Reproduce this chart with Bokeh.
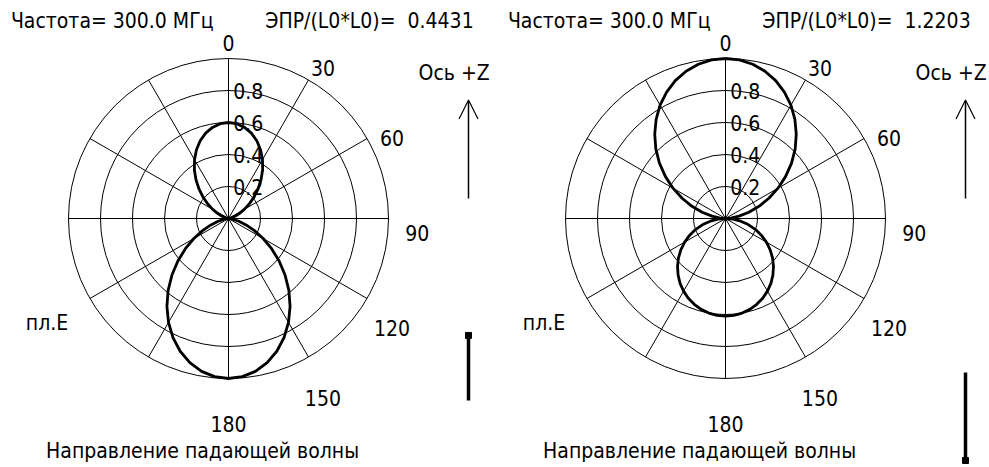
import numpy as np
from bokeh.plotting import figure
from bokeh.layouts import row
from bokeh.models import Range1d, Arrow, OpenHead
from bokeh.core.properties import value
from bokeh.embed import file_html
from bokeh.resources import INLINE

FONT = "Liberation Sans Narrow, DejaVu Sans Condensed, Liberation Sans, sans-serif"
FS = "21px"

# Observation angle measured from the +Z axis, clockwise, 0..180 deg (pattern is symmetric)
theta_deg = list(range(0, 181, 5))

# Normalised RCS patterns (max = 1)
rcs_left = [0.600, 0.595, 0.578, 0.552, 0.517, 0.474, 0.425, 0.372, 0.316, 0.261,
            0.208, 0.158, 0.114, 0.076, 0.046, 0.023, 0.009, 0.002, 0.000,
            0.008, 0.030, 0.067, 0.117, 0.179, 0.250, 0.329, 0.413, 0.500,
            0.587, 0.671, 0.750, 0.821, 0.883, 0.933, 0.970, 0.992, 1.000]
rcs_right = [1.000, 0.995, 0.979, 0.953, 0.917, 0.871, 0.818, 0.756, 0.688, 0.616,
             0.539, 0.459, 0.379, 0.299, 0.223, 0.151, 0.086, 0.033, 0.000,
             0.047, 0.097, 0.147, 0.198, 0.247, 0.295, 0.340, 0.384, 0.424,
             0.461, 0.495, 0.524, 0.550, 0.571, 0.588, 0.600, 0.608, 0.610]

freq_mhz = [300.0, 300.0]
epr_values = [0.4431, 1.2203]

ring_levels = [0.2, 0.4, 0.6, 0.8, 1.0]
ring_labels = ["0.2", "0.4", "0.6", "0.8"]
angle_ticks = [0, 30, 60, 90, 120, 150, 180]
angle_labels = ["0", "30", "60", "90", "120", "150", "180"]

PX = 160.0          # pixels per unit radius
CX, CY = 228.0, 218.0
H = 467


def txt(p, x, y, s, align="left"):
    p.text(x=x, y=y, text=s, text_font=value(FONT), text_font_size=FS,
           text_color="black", text_align=align, text_baseline="middle")


def make_panel(rcs, freq, epr, width, dot_on_top):
    p = figure(width=width, height=H, output_backend="svg", toolbar_location=None,
               x_axis_type=None, y_axis_type=None, min_border=0,
               x_range=Range1d(-CX / PX, (width - CX) / PX),
               y_range=Range1d(-(H - CY) / PX, CY / PX))
    p.outline_line_color = None
    p.grid.visible = False
    p.background_fill_color = "white"
    p.border_fill_color = "white"

    # polar grid: rings and spokes every 30 deg
    p.circle(x=[0] * len(ring_levels), y=[0] * len(ring_levels), radius=ring_levels,
             fill_color=None, line_color="black", line_width=1)
    sp = np.deg2rad(np.arange(0, 360, 30))
    p.segment(x0=[0] * len(sp), y0=[0] * len(sp), x1=np.sin(sp), y1=np.cos(sp),
              line_color="black", line_width=1)

    # radial scale labels along the +Z direction
    txt(p, [0.03] * len(ring_labels), ring_levels[:4], ring_labels)

    # angle labels on the right half (text hangs slightly below its anchor)
    a = np.deg2rad(np.array(angle_ticks, dtype=float))
    lx = 1.18 * np.sin(a)
    ly = 1.11 * np.cos(a) - 0.012 - 0.08 * (1 - np.cos(a))
    txt(p, lx, ly, angle_labels, "center")
    e = np.deg2rad(240.0)
    txt(p, [1.31 * np.sin(e)], [1.31 * np.cos(e)], ["пл.E"], "center")

    # pattern curve: full 360 deg by symmetry
    th = np.deg2rad(np.array(theta_deg, dtype=float))
    r = np.array(rcs)
    th_full = np.concatenate([th, 2 * np.pi - th[::-1][1:]])
    r_full = np.concatenate([r, r[::-1][1:]])
    p.line(x=r_full * np.sin(th_full), y=r_full * np.cos(th_full),
           line_color="black", line_width=2.8)

    # header and footer texts
    txt(p, [-1.36], [1.2375], [f"Частота= {freq:.1f} МГц"])
    txt(p, [0.23], [1.2375], [f"ЭПР/(L0*L0)=\u00a0 {epr:.4f}"])
    txt(p, [-1.14], [-1.456], ["Направление падающей волны"])

    # +Z axis arrow
    txt(p, [1.41], [0.9125], ["Ось +Z"], "center")
    p.add_layout(Arrow(end=OpenHead(size=19, line_width=1.2, line_color="black"),
                       x_start=1.5, y_start=0.125, x_end=1.5, y_end=0.74,
                       line_color="black", line_width=1.5))

    # E-field polarisation marker
    if dot_on_top:
        y0, y1 = -0.731, -1.1375
    else:
        y0, y1 = -0.9625, -1.5125
    p.segment(x0=[1.5], y0=[y0], x1=[1.5], y1=[y1], line_color="black", line_width=3.5)
    p.scatter(x=[1.5], y=[y0 if dot_on_top else y1], marker="square", size=6,
              fill_color="black", line_color="black")
    return p


p1 = make_panel(rcs_left, freq_mhz[0], epr_values[0], 497, True)
p2 = make_panel(rcs_right, freq_mhz[1], epr_values[1], 492, False)
layout = row(p1, p2, spacing=0)

open("out.html", "w").write(file_html(layout, INLINE))
